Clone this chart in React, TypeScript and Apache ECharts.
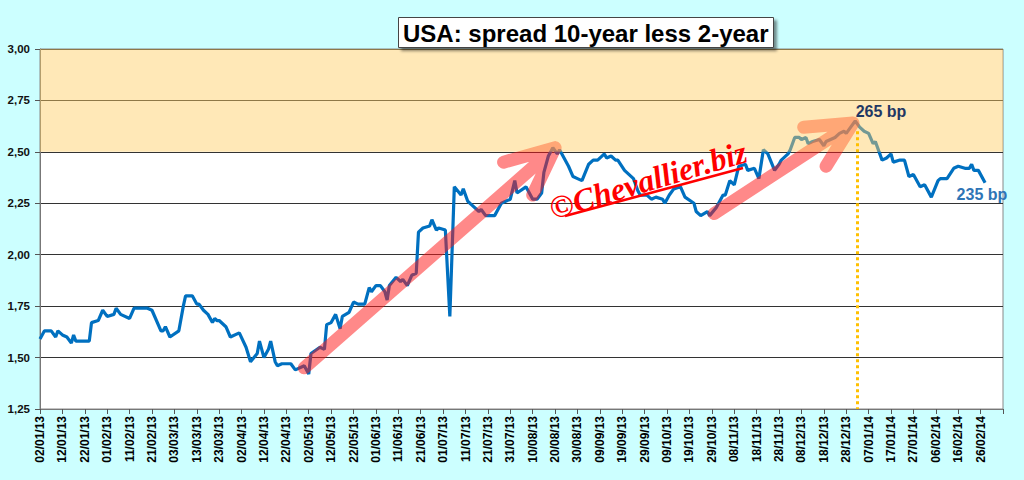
import React, { useEffect, useRef } from 'react';
import * as echarts from 'echarts';

// day offsets counted from 02/01/13
const days = [
  0, 2, 5, 7, 8, 10, 12, 14, 15, 16, 22, 23, 26, 28, 30, 33, 34, 36, 40, 42,
  48, 50, 54, 55, 56, 58, 62, 64, 65, 68, 70, 71, 73, 75, 77, 78, 79, 80, 83, 85,
  89, 92, 94, 97, 98, 100, 102, 103, 105, 106, 108, 112, 114, 118, 120, 121, 125, 127, 128, 130,
  132, 134, 135, 138, 140, 142, 145, 147, 148, 150, 152, 154, 155, 156, 159, 161, 162, 164, 166, 168,
  169, 171, 174, 175, 177, 178, 181, 183, 185, 188, 189, 191, 193, 196, 197, 199, 203, 206, 210, 212,
  213, 217, 220, 222, 224, 225, 227, 229, 231, 232, 234, 236, 238, 240, 242, 245, 247, 249, 252, 253,
  255, 257, 258, 261, 265, 267, 268, 271, 273, 275, 278, 279, 281, 283, 286, 288, 292, 293, 295, 298,
  299, 302, 305, 306, 308, 310, 312, 315, 316, 319, 321, 323, 325, 328, 330, 331, 334, 335, 337, 339,
  340, 342, 343, 345, 348, 350, 351, 353, 355, 357, 359, 360, 362, 364, 366, 368, 370, 372, 373, 375,
  376, 378, 380, 381, 384, 386, 388, 390, 393, 395, 398, 401, 402, 405, 408, 410, 413, 415, 416, 417,
  419, 422,
];

const spread = [
  1.59, 1.63, 1.63, 1.6, 1.63, 1.61, 1.6, 1.57, 1.61, 1.58, 1.58, 1.67, 1.68, 1.73, 1.7, 1.71, 1.74, 1.71, 1.69, 1.74,
  1.74, 1.73, 1.63, 1.63, 1.65, 1.6, 1.63, 1.75, 1.8, 1.8, 1.76, 1.76, 1.73, 1.71, 1.67, 1.69, 1.68, 1.68, 1.65, 1.6,
  1.62, 1.55, 1.48, 1.52, 1.58, 1.5, 1.54, 1.58, 1.48, 1.46, 1.47, 1.47, 1.44, 1.46, 1.42, 1.52, 1.55, 1.54, 1.66, 1.67,
  1.71, 1.64, 1.7, 1.72, 1.77, 1.76, 1.76, 1.84, 1.82, 1.85, 1.85, 1.82, 1.78, 1.85, 1.89, 1.87, 1.88, 1.85, 1.9, 1.91,
  2.11, 2.13, 2.14, 2.17, 2.12, 2.13, 2.12, 1.7, 2.33, 2.29, 2.32, 2.26, 2.24, 2.21, 2.22, 2.19, 2.19, 2.25, 2.27, 2.36,
  2.3, 2.33, 2.27, 2.27, 2.3, 2.4, 2.48, 2.52, 2.49, 2.51, 2.47, 2.43, 2.38, 2.37, 2.36, 2.44, 2.46, 2.46, 2.49, 2.47,
  2.48, 2.46, 2.46, 2.41, 2.37, 2.31, 2.29, 2.29, 2.27, 2.28, 2.27, 2.25, 2.29, 2.32, 2.33, 2.28, 2.25, 2.21, 2.19, 2.21,
  2.19, 2.23, 2.29, 2.29, 2.36, 2.34, 2.43, 2.44, 2.41, 2.42, 2.37, 2.51, 2.49, 2.41, 2.44, 2.46, 2.49, 2.51, 2.57, 2.57,
  2.56, 2.57, 2.54, 2.55, 2.56, 2.53, 2.55, 2.56, 2.57, 2.59, 2.6, 2.59, 2.62, 2.65, 2.62, 2.6, 2.59, 2.54, 2.55, 2.49,
  2.46, 2.47, 2.49, 2.45, 2.46, 2.46, 2.38, 2.39, 2.33, 2.34, 2.28, 2.36, 2.37, 2.37, 2.42, 2.43, 2.42, 2.42, 2.44, 2.41,
  2.41, 2.35,
];

// hand-drawn arrows: shaft start, tip, barb, tip, barb
const arrowSpring = [[118, 1.45], [230, 2.52], [207, 2.45], [230, 2.52], [220, 2.29]];
const arrowAutumn = [[301, 2.2], [363, 2.64], [341, 2.62], [363, 2.64], [351, 2.43]];

const peak = { day: 364, value: 2.65, label: '265 bp' };
const last = { day: 422, value: 2.35, label: '235 bp' };
const highBand = [2.5, 3.0];

const FONT = "'Liberation Sans', Arial, sans-serif";
const BASE = Date.UTC(2013, 0, 2);

const pad = (n: number) => (n < 10 ? '0' + n : '' + n);
const dayLabel = (v: number) => {
  if (v > 420) return '';
  const d = new Date(BASE + v * 86400000);
  return pad(d.getUTCDate()) + '/' + pad(d.getUTCMonth() + 1) + '/' + pad(d.getUTCFullYear() % 100);
};

const arrowSeries = (data: number[][]) => ({
  type: 'line',
  data,
  symbol: 'none',
  silent: true,
  z: 3,
  lineStyle: { color: 'rgb(255,20,20)', opacity: 0.5, width: 13, cap: 'round', join: 'round' },
});

const App: React.FC = () => {
  const chartRef = useRef<HTMLDivElement>(null);

  useEffect(() => {
    if (!chartRef.current) return;
    const chart = echarts.init(chartRef.current, undefined, { renderer: 'svg' });

    const option = {
      animation: false,
      backgroundColor: '#ccffff',
      title: {
        text: 'USA: spread 10-year less 2-year',
        left: 398,
        top: 17,
        padding: [3, 5, 2, 5],
        backgroundColor: '#fff',
        borderColor: '#444',
        borderWidth: 1,
        shadowColor: 'rgba(0,0,0,0.45)',
        shadowBlur: 3,
        shadowOffsetX: 3,
        shadowOffsetY: 3,
        textStyle: { fontFamily: FONT, fontSize: 24, lineHeight: 26, fontWeight: 'bold', color: '#000' },
      },
      grid: {
        left: 40, right: 21, top: 49, bottom: 71,
        show: true, backgroundColor: '#fff', borderColor: '#888', borderWidth: 1,
      },
      xAxis: {
        type: 'value',
        min: 0,
        max: 430,
        interval: 10,
        axisLine: { show: true, onZero: false, lineStyle: { color: '#777' } },
        axisTick: { show: true, length: 5, lineStyle: { color: '#555' } },
        splitLine: { show: false },
        axisLabel: {
          rotate: 90,
          margin: 7,
          formatter: dayLabel,
          fontFamily: FONT,
          fontSize: 12,
          fontWeight: 'bold',
          color: '#000',
        },
      },
      yAxis: {
        type: 'value',
        min: 1.25,
        max: 3,
        interval: 0.25,
        axisLine: { show: true, lineStyle: { color: '#777' } },
        axisTick: { show: true, length: 5, lineStyle: { color: '#555' } },
        splitLine: { show: true, lineStyle: { color: '#333' } },
        axisLabel: {
          margin: 10,
          formatter: (v: number) => v.toFixed(2).replace('.', ','),
          fontFamily: FONT,
          fontSize: 11.5,
          fontWeight: 'bold',
          color: '#111',
        },
      },
      series: [
        {
          type: 'line',
          data: days.map((d, i) => [d, spread[i]]),
          symbol: 'none',
          z: 2,
          lineStyle: { color: '#0070c0', width: 3.2 },
          markLine: {
            silent: true,
            symbol: ['none', 'none'],
            label: { show: false },
            lineStyle: { color: '#ffc000', width: 3, type: [3, 3] },
            data: [[{ coord: [peak.day + 1, 2.6] }, { coord: [peak.day + 1, 1.25] }]],
          },
          markPoint: {
            silent: true,
            symbol: 'circle',
            symbolSize: 1,
            itemStyle: { color: 'rgba(0,0,0,0)' },
            label: {
              show: true,
              formatter: '{b}',
              fontFamily: FONT,
              fontSize: 16,
              fontWeight: 'bold',
              align: 'left',
              verticalAlign: 'middle',
            },
            data: [
              { name: peak.label, coord: [peak.day, peak.value], label: { position: [1, -9], color: '#1f3864' } },
              { name: last.label, coord: [last.day, last.value], label: { position: [-28, 12], color: '#2e75b6' } },
            ],
          },
        },
        arrowSeries(arrowSpring),
        arrowSeries(arrowAutumn),
        {
          type: 'line',
          data: [],
          z: 4,
          silent: true,
          markArea: {
            z: 4,
            silent: true,
            itemStyle: { color: 'rgba(255,205,95,0.45)' },
            data: [[{ yAxis: highBand[0] }, { yAxis: highBand[1] }]],
          },
        },
      ],
      graphic: [
        {
          type: 'text',
          x: 648,
          y: 180,
          rotation: 0.29,
          z: 20,
          silent: true,
          style: {
            text: '©Chevallier.biz',
            fill: '#ff0000',
            fontFamily: "'Liberation Serif', serif",
            fontStyle: 'italic',
            fontWeight: 'bold',
            fontSize: 32,
            align: 'center',
            verticalAlign: 'middle',
          },
        },
        {
          type: 'line',
          z: 20,
          silent: true,
          shape: { x1: 565, y1: 216, x2: 743, y2: 168 },
          style: { stroke: '#ff0000', lineWidth: 2.5 },
        },
      ],
    };

    chart.setOption(option);
    return () => chart.dispose();
  }, []);

  return (
    <div
      ref={chartRef}
      style={{ position: 'absolute', left: 0, top: 0, width: 1024, height: 480 }}
    />
  );
};

export default App;
